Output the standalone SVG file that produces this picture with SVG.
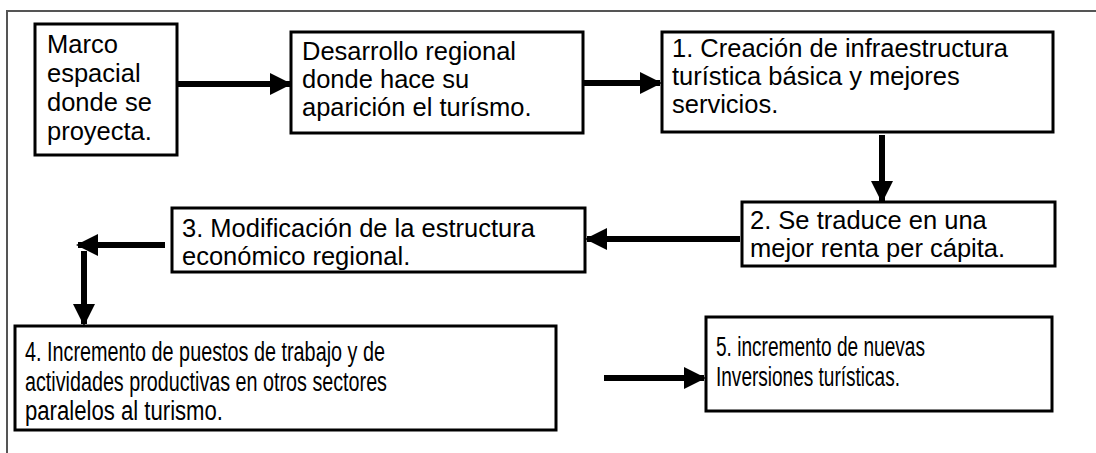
<svg xmlns="http://www.w3.org/2000/svg" width="1096" height="453" viewBox="0 0 1096 453">
<defs>
<marker id="ah" markerUnits="userSpaceOnUse" markerWidth="22" markerHeight="22" refX="20" refY="11" orient="auto">
<path d="M0,0 L22,11 L0,22 Z" fill="#000"/>
</marker>
<style>
.box{fill:#fff;stroke:#000;stroke-width:3}
.t{font-family:"Liberation Sans",Arial,sans-serif;font-size:25.5px;fill:#000}
.tc{font-family:"Liberation Sans",Arial,sans-serif;font-size:27px;fill:#000}
.c{fill:none;stroke:#000;stroke-width:6}
.frame{fill:none;stroke:#555;stroke-width:2}
</style>
</defs>
<rect width="1096" height="453" fill="#fff"/>
<path class="frame" d="M7,453 L7,11 L1096,11"/>
<g id="connectors">
<line class="c" x1="178" y1="84" x2="290" y2="84" marker-end="url(#ah)"/>
<line class="c" x1="584" y1="83" x2="660" y2="83" marker-end="url(#ah)"/>
<line class="c" x1="882" y1="135" x2="882" y2="201" marker-end="url(#ah)"/>
<line class="c" x1="740" y1="239" x2="587" y2="239" marker-end="url(#ah)"/>
<line class="c" x1="165" y1="245" x2="78" y2="245" marker-end="url(#ah)"/>
<line class="c" x1="84" y1="251" x2="84" y2="324" marker-end="url(#ah)"/>
<line class="c" x1="604" y1="378" x2="704" y2="378" marker-end="url(#ah)"/>
</g>
<g id="n0">
<rect class="box" x="35" y="24" width="142" height="131"/>
<text class="t" x="47" y="53">Marco</text>
<text class="t" x="47" y="82">espacial</text>
<text class="t" x="47" y="111">donde se</text>
<text class="t" x="47" y="140">proyecta.</text>
</g>
<g id="n1">
<rect class="box" x="291" y="32" width="292" height="101"/>
<text class="t" x="302" y="60">Desarrollo regional</text>
<text class="t" x="302" y="88">donde hace su</text>
<text class="t" x="302" y="116">aparición el turísmo.</text>
</g>
<g id="n2">
<rect class="box" x="662" y="32" width="391" height="100"/>
<text class="t" x="672" y="57">1. Creación de infraestructura</text>
<text class="t" x="672" y="85">turística básica y mejores</text>
<text class="t" x="672" y="113">servicios.</text>
</g>
<g id="n3">
<rect class="box" x="742" y="202" width="313" height="64"/>
<text class="t" x="750" y="229">2. Se traduce en una</text>
<text class="t" x="750" y="257">mejor renta per cápita.</text>
</g>
<g id="n4">
<rect class="box" x="172" y="208" width="413" height="64"/>
<text class="t" x="182" y="237">3. Modificación de la estructura</text>
<text class="t" x="182" y="265">económico regional.</text>
</g>
<g id="n5">
<rect class="box" x="15" y="326" width="541" height="104"/>
<text class="tc" x="25" y="361" textLength="360" lengthAdjust="spacingAndGlyphs">4. Incremento de puestos de trabajo y de</text>
<text class="tc" x="25" y="391" textLength="362" lengthAdjust="spacingAndGlyphs">actividades productivas en otros sectores</text>
<text class="tc" x="25" y="420" textLength="198" lengthAdjust="spacingAndGlyphs">paralelos al turismo.</text>
</g>
<g id="n6">
<rect class="box" x="706" y="317" width="346" height="94"/>
<text class="tc" x="716" y="356" textLength="209" lengthAdjust="spacingAndGlyphs">5. incremento de nuevas</text>
<text class="tc" x="716" y="386" textLength="184" lengthAdjust="spacingAndGlyphs">Inversiones turísticas.</text>
</g>
</svg>
